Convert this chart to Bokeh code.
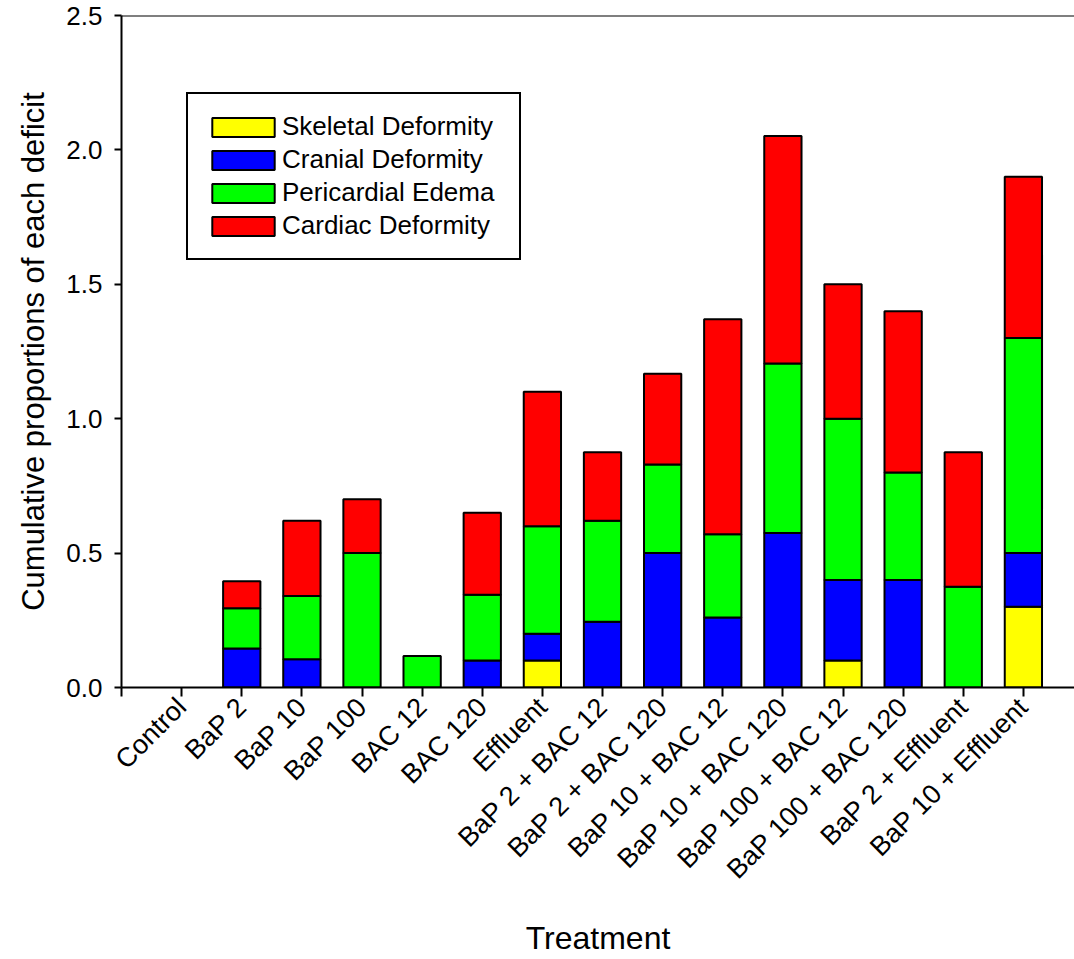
import numpy as np
from bokeh.plotting import figure
from bokeh.models import Range1d, FixedTicker, Span, Legend, LegendItem, NumeralTickFormatter
from bokeh.embed import file_html
from bokeh.resources import INLINE
from math import pi

treatments = ["Control", "BaP 2", "BaP 10", "BaP 100", "BAC 12", "BAC 120", "Effluent",
              "BaP 2 + BAC 12", "BaP 2 + BAC 120", "BaP 10 + BAC 12", "BaP 10 + BAC 120",
              "BaP 100 + BAC 12", "BaP 100 + BAC 120", "BaP 2 + Effluent", "BaP 10 + Effluent"]
skeletal =    [0, 0,     0,     0,   0,     0,     0.1, 0,     0,     0,    0,     0.1, 0,   0,     0.3]
cranial =     [0, 0.145, 0.105, 0,   0,     0.1,   0.1, 0.245, 0.5,   0.26, 0.575, 0.3, 0.4, 0,     0.2]
pericardial = [0, 0.15,  0.235, 0.5, 0.117, 0.245, 0.4, 0.375, 0.33,  0.31, 0.63,  0.6, 0.4, 0.375, 0.8]
cardiac =     [0, 0.1,   0.28,  0.2, 0,     0.305, 0.5, 0.255, 0.337, 0.8,  0.847, 0.5, 0.6, 0.5,   0.6]

series_names = ["Skeletal Deformity", "Cranial Deformity", "Pericardial Edema", "Cardiac Deformity"]
series_vals = [skeletal, cranial, pericardial, cardiac]
colors = ["#FFFF00", "#0000FF", "#00FF00", "#FF0000"]
y_ticks = [0.0, 0.5, 1.0, 1.5, 2.0, 2.5]

FONT = "Liberation Sans"

p = figure(width=1074, height=959, output_backend="svg", toolbar_location=None,
           x_range=Range1d(0, 15.85), y_range=Range1d(0, 2.5),
           min_border_left=121, min_border_top=15, min_border_right=0, min_border_bottom=272)
p.outline_line_color = None
p.xgrid.visible = False
p.ygrid.visible = False
p.background_fill_color = "white"
p.border_fill_color = "white"

xpos = np.arange(1, len(treatments) + 1)
bottom = np.zeros(len(treatments))
renderers = []
for name, vals, col in zip(series_names, series_vals, colors):
    v = np.array(vals, dtype=float)
    top = bottom + v
    mask = v > 0
    r = p.vbar(x=xpos[mask], bottom=bottom[mask], top=top[mask], width=0.62,
               fill_color=col, line_color="black", line_width=2)
    renderers.append((name, r))
    bottom = top

# top border line
p.add_layout(Span(location=2.5, dimension="width", line_color="black", line_width=2))

# axes
xa = p.xaxis[0]
xa.ticker = FixedTicker(ticks=list(range(0, len(treatments) + 1)))
xa.major_label_overrides = {0: ""} | {i + 1: t for i, t in enumerate(treatments)}
xa.major_label_orientation = pi / 4
xa.minor_tick_line_color = None
xa.major_tick_in = 0
xa.major_tick_out = 9
xa.major_tick_line_width = 2
xa.axis_line_width = 2
xa.major_label_text_font = FONT
xa.major_label_text_font_size = "27px"
xa.major_label_text_color = "black"
xa.major_label_standoff = 6
xa.axis_label = "Treatment"
xa.axis_label_text_font = FONT
xa.axis_label_text_font_size = "32px"
xa.axis_label_text_font_style = "normal"
xa.axis_label_text_color = "black"
xa.axis_label_standoff = 22

ya = p.yaxis[0]
ya.ticker = FixedTicker(ticks=y_ticks)
ya.formatter = NumeralTickFormatter(format="0.0")
ya.minor_tick_line_color = None
ya.major_tick_in = 0
ya.major_tick_out = 7
ya.major_tick_line_width = 2
ya.axis_line_width = 2
ya.major_label_text_font = FONT
ya.major_label_text_font_size = "26px"
ya.major_label_text_color = "black"
ya.major_label_standoff = 12
ya.axis_label = "Cumulative proportions of each deficit"
ya.axis_label_text_font = FONT
ya.axis_label_text_font_size = "31px"
ya.axis_label_text_font_style = "normal"
ya.axis_label_text_color = "black"
ya.axis_label_standoff = 12

legend = Legend(items=[LegendItem(label=n, renderers=[r]) for n, r in renderers],
                location=(65, 427), orientation="vertical",
                glyph_width=78, glyph_height=24, label_standoff=0,
                label_width=221, label_height=33,
                label_text_font=FONT, label_text_font_size="26px", label_text_color="black",
                spacing=0, padding=16, margin=0,
                border_line_color="black", border_line_width=2, border_line_alpha=1.0,
                background_fill_color="white", background_fill_alpha=1.0)
p.add_layout(legend, "center")

open("out.html", "w").write(file_html(p, INLINE))
